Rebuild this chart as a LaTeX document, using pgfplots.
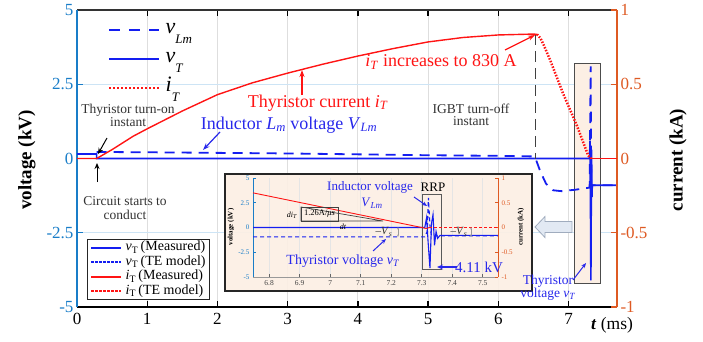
\documentclass[border=0pt]{standalone}
\usepackage{fontspec}
\setmainfont{Liberation Serif}
\usepackage{pgfplots}
\pgfplotsset{compat=1.18}
\usetikzlibrary{arrows.meta}

\definecolor{axblue}{RGB}{25,125,200}
\definecolor{axorange}{RGB}{222,90,35}
\definecolor{cblue}{RGB}{20,30,240}
\definecolor{cred}{RGB}{255,20,20}
\definecolor{peach}{RGB}{252,239,228}
\definecolor{gridgray}{RGB}{222,222,222}
\definecolor{gridblue}{RGB}{205,228,245}
\definecolor{annblue}{RGB}{40,40,235}
\definecolor{arrowfill}{RGB}{226,233,243}
\definecolor{arrowdraw}{RGB}{160,172,190}
\definecolor{txtgray}{RGB}{50,50,50}

\newcommand{\fs}[1]{\fontsize{#1}{#1}\selectfont}

\begin{document}
\begin{tikzpicture}[x=1pt,y=1pt]
% ===================== main voltage axis
\begin{axis}[
  at={(0pt,0pt)}, anchor=south west, scale only axis,
  width=540pt, height=297pt,
  xmin=0, xmax=7.69, ymin=-5, ymax=5,
  clip=false,
  axis line style={draw=none},
  xtick={0,1,2,3,4,5,6,7}, xticklabels={0,1,2,3,4,5,6,7},
  ytick={-5,-2.5,0,2.5,5}, yticklabels={-5,-2.5,0,2.5,5},
  xtick pos=both, ytick pos=left, tick align=inside,
  major tick length=6pt,
  x tick style={black, line width=1.3pt},
  y tick style={axblue, line width=1.3pt},
  xticklabel style={font=\fs{17}, black, yshift=-3pt},
  yticklabel style={font=\fs{17}, axblue},
  xmajorgrids, ymajorgrids,
  x grid style={gridgray, line width=1.2pt},
  y grid style={gridblue, line width=1.2pt},
  legend style={draw=none, fill=none, at={(axis description cs:0.0574,0.9815)}, anchor=north west,
    inner sep=0pt, column sep=5pt, row sep=0pt,
    nodes={inner sep=0pt, text height=17.5pt, text depth=11.5pt}},
  legend cell align=left,
  legend image code/.code={\draw[#1] (0pt,0pt) -- (50pt,0pt);},
]
\draw[black!70, fill=peach, line width=1pt] (axis cs:7.09,-4.2) rectangle (axis cs:7.45,3.2);
\draw[black!80, line width=1.2pt] (rel axis cs:0,1) -- (rel axis cs:1,1);
\draw[black, line width=2pt] (rel axis cs:0,0) -- (rel axis cs:1,0);
\draw[axblue, line width=2pt] (rel axis cs:0,0) -- (rel axis cs:0,1);

\addlegendimage{cblue, line width=2pt, dash pattern=on 11pt off 9pt}
\addlegendentry{\fs{22}\textit{v}\raisebox{-10pt}{\fs{13}\textit{Lm}}}
\addlegendimage{cblue, line width=2pt}
\addlegendentry{\fs{22}\textit{v}\raisebox{-10pt}{\fs{13}\textit{T}}}
\addlegendimage{cred, line width=2.5pt, dash pattern=on 2pt off 2pt}
\addlegendentry{\fs{22}\textit{i}\raisebox{-10pt}{\fs{13}\textit{T}}}

% vT (measured)
\addplot[cblue, line width=1.6pt, forget plot] coordinates {
(0,0.15) (0.28,0.15) (0.28,0) (7.3,0) (7.305,0.6) (7.312,-1.5) (7.318,-4.1) (7.324,-1.2)
(7.328,0.3) (7.333,-1.3) (7.338,-0.9) (7.69,-0.9)};
% vLm
\addplot[cblue, line width=1.8pt, dash pattern=on 10pt off 7pt, forget plot] coordinates {
(0.28,0.22) (1,0.21) (2,0.19) (3,0.17) (4,0.14) (5,0.11) (6,0.09) (6.5,0.07) (6.53,0)
(6.6,-0.45) (6.68,-0.85) (6.78,-1.07) (6.9,-1.1) (7.1,-1.05) (7.3,-0.98) (7.315,3.1)
(7.322,-0.9) (7.69,-0.9)};
\end{axis}

% ===================== main current axis
\begin{axis}[
  at={(0pt,0pt)}, anchor=south west, scale only axis,
  width=540pt, height=297pt,
  xmin=0, xmax=7.69, ymin=-1, ymax=1,
  clip=false, hide x axis,
  axis line style={draw=none},
  ytick={-1,-0.5,0,0.5,1}, yticklabels={-1,-0.5,0,0.5,1},
  ytick pos=right, tick align=inside, major tick length=6pt,
  y tick style={axorange, line width=1.3pt},
  yticklabel style={font=\fs{17}, axorange},
  legend style={at={(axis description cs:0.0185,0.0236)}, anchor=south west,
    draw=black!85, line width=1pt, fill=white, font=\fs{14},
    inner xsep=3pt, inner ysep=1pt, row sep=0pt, column sep=3pt,
    nodes={inner sep=0.5pt, text height=10pt, text depth=3.5pt}},
  legend cell align=left,
  legend image code/.code={\draw[#1] (0pt,0pt) -- (30pt,0pt);},
]
\draw[axorange, line width=2pt] (rel axis cs:1,0) -- (rel axis cs:1,1);

\addlegendimage{cblue, line width=1.7pt}
\addlegendentry{\textit{v}\textsubscript{T}\,(Measured)}
\addlegendimage{cblue, line width=1.7pt, dash pattern=on 2.5pt off 1.5pt}
\addlegendentry{\textit{v}\textsubscript{T}\,(TE model)}
\addlegendimage{cred, line width=1.7pt}
\addlegendentry{\textit{i}\textsubscript{T}\,(Measured)}
\addlegendimage{cred, line width=1.7pt, dash pattern=on 2.5pt off 1.5pt}
\addlegendentry{\textit{i}\textsubscript{T}\,(TE model)}

% IGBT turn-off marker
\addplot[black!75, line width=1.3pt, dash pattern=on 11pt off 6pt, forget plot] coordinates {(6.53,0.84) (6.53,0)};
% iT measured
\addplot[cred, line width=1.4pt, forget plot] coordinates {
(0,0) (0.28,0) (0.5,0.06) (0.8,0.15) (1,0.2) (1.5,0.32) (2,0.43) (2.5,0.51) (3,0.575)
(3.5,0.635) (4,0.69) (4.5,0.74) (5,0.785) (5.5,0.815) (6,0.832) (6.5,0.838) (6.55,0.836)};
% iT TE model
\addplot[cred, line width=2.5pt, dash pattern=on 1.5pt off 1.5pt, forget plot] coordinates {
(6.55,0.836) (6.6,0.81) (6.65,0.76) (6.74,0.66) (6.92,0.44) (7.12,0.22) (7.28,0.02) (7.32,0)};
\addplot[cred, line width=1.5pt, forget plot] coordinates {(7.32,0) (7.69,0)};
\end{axis}

% ===================== inset background
\draw[black!85, line width=1.2pt, fill=peach, fill opacity=0.92] (148pt,16pt) rectangle (455pt,133pt);

% ===================== inset voltage axis
\begin{axis}[
  at={(176pt,30pt)}, anchor=south west, scale only axis,
  width=245pt, height=99pt,
  xmin=6.747, xmax=7.55, ymin=-5, ymax=5, clip=false,
  axis line style={draw=none},
  xtick={6.8,6.9,7,7.1,7.2,7.3,7.4,7.5}, xticklabels={6.8,6.9,7,7.1,7.2,7.3,7.4,7.5},
  ytick={-5,-2.5,0,2.5,5}, yticklabels={-5,-2.5,0,2.5,5},
  xtick pos=left, ytick pos=left, tick align=inside, major tick length=3pt,
  x tick style={black!60, line width=0.6pt}, y tick style={axblue, line width=0.8pt},
  xticklabel style={font=\fs{7.5}, black!75},
  yticklabel style={font=\fs{7}, axblue},
  xmajorgrids, x grid style={black!10, line width=0.6pt},
]
\draw[axblue, line width=1pt] (rel axis cs:0,0) -- (rel axis cs:0,1);
\draw[black!40, line width=0.6pt] (rel axis cs:0,0) -- (rel axis cs:1,0);
\draw[black!65, line width=0.9pt] (axis cs:7.303,3.33) rectangle (axis cs:7.365,-4.24);
\addplot[cblue, line width=1.1pt] coordinates {
(6.747,0) (7.31,0) (7.316,1.0) (7.321,-1.5) (7.327,-4.11) (7.332,0.4) (7.337,1.3)
(7.342,-1.8) (7.347,-0.4) (7.352,-1.1) (7.36,-0.8) (7.55,-0.8)};
\addplot[cblue, line width=1.1pt, dash pattern=on 4pt off 3pt] coordinates {
(6.747,-0.95) (7.31,-0.95) (7.318,-0.4) (7.322,3.0) (7.327,0.2) (7.332,-0.85) (7.55,-0.85)};
\end{axis}

% ===================== inset current axis
\begin{axis}[
  at={(176pt,30pt)}, anchor=south west, scale only axis,
  width=245pt, height=99pt,
  xmin=6.747, xmax=7.55, ymin=-1, ymax=1, clip=false, hide x axis,
  axis line style={draw=none},
  ytick={-1,-0.5,0,0.5,1}, yticklabels={-1,-0.5,0,0.5,1},
  ytick pos=right, tick align=inside, major tick length=3pt,
  y tick style={axorange, line width=0.8pt},
  yticklabel style={font=\fs{7}, axorange},
]
\draw[axorange, line width=1pt] (rel axis cs:1,0) -- (rel axis cs:1,1);
\addplot[cred, line width=0.9pt] coordinates {(6.747,0.70) (7.30,0.0) (7.315,-0.02) (7.325,0.0)};
\addplot[cred, line width=0.9pt, dash pattern=on 3pt off 2pt] coordinates {(7.325,0) (7.55,0)};
\end{axis}

% ===================== inset annotations
\node[rotate=90, font=\fs{7}\bfseries, black] at (154pt,80pt) {voltage (kV)};
\node[rotate=90, font=\fs{7}\bfseries, black] at (444pt,80pt) {current (kA)};
\node[font=\fs{13}, annblue] at (293pt,120pt) {Inductor voltage};
\node[font=\fs{13}, annblue] at (295pt,104pt) {\textit{V}\textsubscript{\textit{Lm}}};
\draw[annblue, line width=1pt, -{Stealth[length=5pt,width=4pt]}] (337pt,110pt) -- (350pt,101pt);
\node[font=\fs{13}, black] at (356pt,120pt) {RRP};
\node[font=\fs{11}, txtgray] at (307pt,75pt) {--\textit{V}\textsubscript{\textit{s}}};
\node[font=\fs{11}, txtgray] at (382pt,75pt) {--\textit{V}\textsubscript{\textit{s}}};
\draw[black!40, line width=0.5pt, {Stealth[length=2.5pt]}-{Stealth[length=2.5pt]}] (321pt,80pt) -- (321pt,70pt);
\draw[black!40, line width=0.5pt, {Stealth[length=2.5pt]}-{Stealth[length=2.5pt]}] (394pt,80pt) -- (394pt,70pt);
\node[font=\fs{14}, annblue] at (266pt,46pt) {Thyristor voltage \textit{v}\textsubscript{\textit{T}}};
\draw[annblue, line width=1pt, -{Stealth[length=5pt,width=4pt]}] (296pt,56pt) -- (309pt,68pt);
\node[font=\fs{15}, annblue] at (402pt,40pt) {4.11 kV};
\draw[annblue, line width=1.2pt, -{Stealth[length=6pt,width=5pt]}] (380pt,40pt) -- (360pt,40pt);
\draw[black!75, line width=0.7pt] (224pt,100pt) -- (224pt,86pt) -- (306pt,86pt) -- cycle;
\draw[black!75, line width=0.7pt] (224pt,100pt) rectangle (261pt,86pt);
\node[font=\fs{8.5}, black] at (242.5pt,93pt) {1.26A/\textit{μs}};
\node[font=\fs{8}, black] at (215pt,92pt) {\textit{di}\textsubscript{\textit{T}}};
\node[font=\fs{8}, black] at (266pt,80pt) {\textit{dt}};

% ===================== main annotations
\draw[arrowdraw, fill=arrowfill, line width=0.8pt] (458pt,80pt) -- (468pt,90.5pt) -- (468pt,85.5pt) -- (495pt,85.5pt) -- (495pt,74.5pt) -- (468pt,74.5pt) -- (468pt,69.5pt) -- cycle;

\node[font=\fs{13.5}, txtgray, align=center] at (51pt,191.5pt) {Thyristor turn-on\\[-1pt]instant};
\draw[black, line width=1pt, -{Stealth[length=6pt,width=5pt]}] (30pt,169pt) -- (21pt,153pt);
\node[font=\fs{13.5}, txtgray, align=center] at (48pt,99pt) {Circuit starts to\\[1pt]conduct};
\draw[black, line width=1pt, -{Stealth[length=6pt,width=5pt]}] (20pt,125pt) -- (20pt,144pt);
\node[font=\fs{18}, cred] at (241pt,204pt) {Thyristor current \textit{i}\textsubscript{\textit{T}}};
\draw[cred, line width=1.2pt, -{Stealth[length=7pt,width=5pt]}] (225pt,212pt) -- (225pt,237pt);
\node[font=\fs{18}, annblue] at (212pt,182pt) {Inductor \textit{L}\textsubscript{\textit{m}} voltage \textit{V}\textsubscript{\textit{Lm}}};
\draw[annblue, line width=1.2pt, -{Stealth[length=7pt,width=5pt]}] (143pt,175pt) -- (126pt,157pt);
\node[font=\fs{18}, cred] at (364pt,245pt) {\textit{i}\textsubscript{\textit{T}} increases to 830 A};
\draw[cred, line width=1.2pt, -{Stealth[length=7pt,width=5pt]}] (428pt,257pt) -- (458pt,272pt);
\node[font=\fs{13.5}, txtgray, align=center] at (394pt,192pt) {IGBT turn-off\\[-1pt]instant};
\node[font=\fs{13.5}, annblue, align=center] at (471pt,19pt) {Thyristor\\[-1pt]voltage \textit{v}\textsubscript{\textit{T}}};
\draw[annblue, line width=1pt, -{Stealth[length=5pt,width=4pt]}] (496pt,27pt) -- (509pt,44pt);

% axis labels
\node[rotate=90, font=\fs{19}\bfseries] at (-50pt,147pt) {voltage (kV)};
\node[rotate=90, font=\fs{19}\bfseries] at (601pt,147pt) {current (kA)};
\node[font=\fs{17.5}] at (535pt,-18pt) {\textbf{\textit{t}} (ms)};

\pgfresetboundingbox
\path[use as bounding box] (-77pt,-34pt) rectangle (626pt,307pt);
\end{tikzpicture}
\end{document}
